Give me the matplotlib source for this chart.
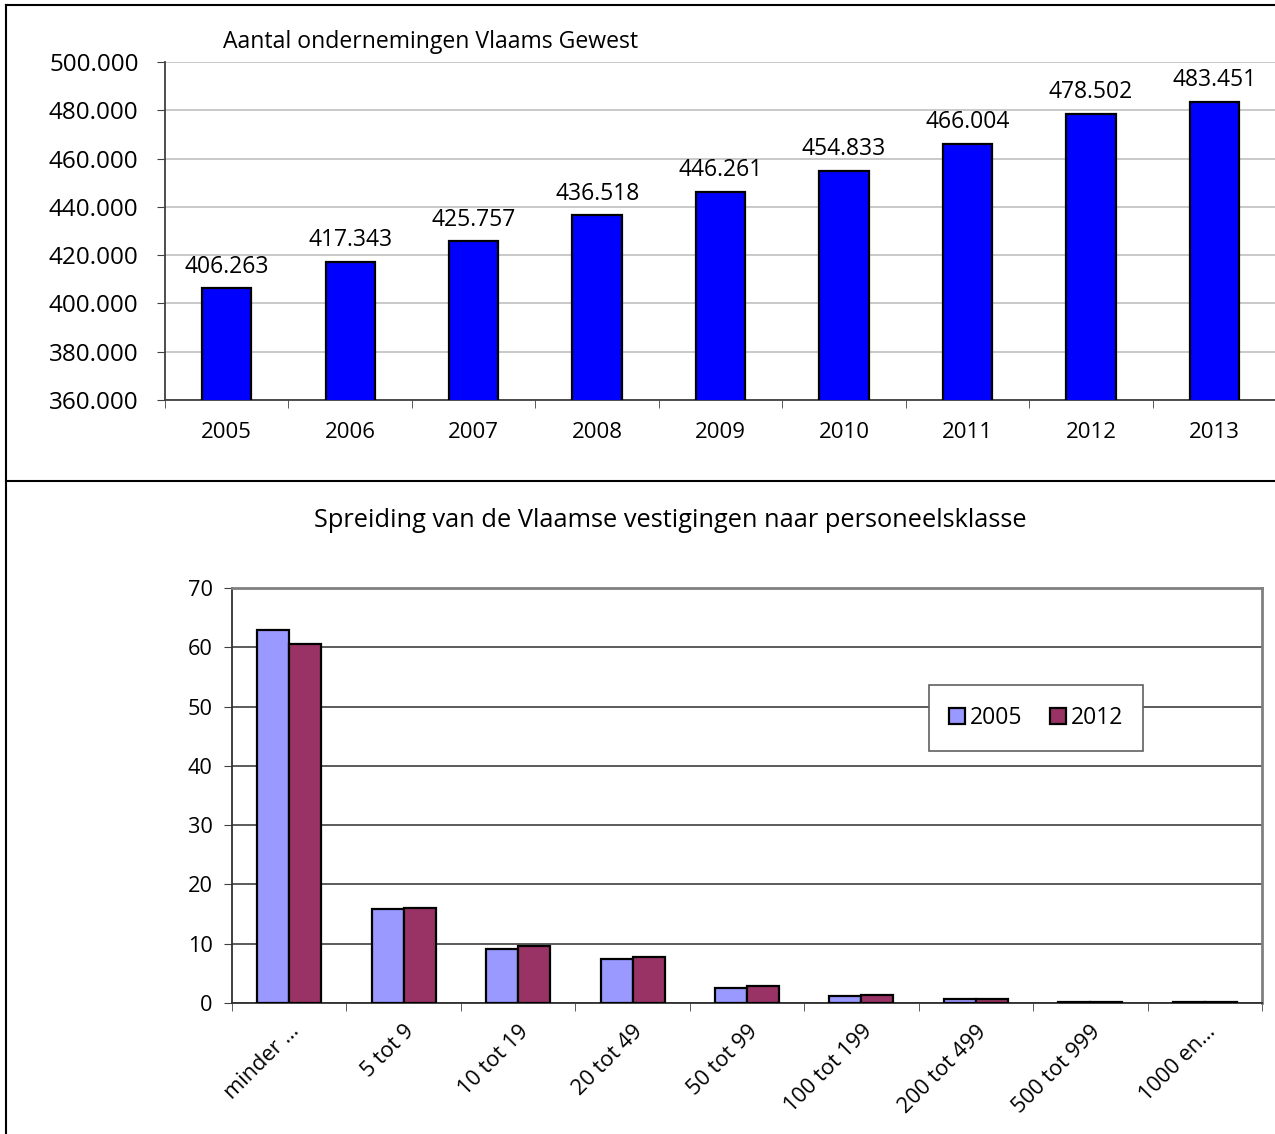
import matplotlib
matplotlib.use('Agg')
import matplotlib.pyplot as plt
from matplotlib.lines import Line2D
import numpy as np

plt.rcParams['font.family'] = ['Open Sans', 'DejaVu Sans']

# top chart: number of enterprises
years = ['2005', '2006', '2007', '2008', '2009', '2010', '2011', '2012', '2013']
enterprises = [406263, 417343, 425757, 436518, 446261, 454833, 466004, 478502, 483451]
enterprise_labels = ['406.263', '417.343', '425.757', '436.518', '446.261',
                     '454.833', '466.004', '478.502', '483.451']
top_yticks = [360000, 380000, 400000, 420000, 440000, 460000, 480000, 500000]
top_yticklabels = ['360.000', '380.000', '400.000', '420.000', '440.000',
                   '460.000', '480.000', '500.000']

# bottom chart: distribution by staff class (%)
classes = ['minder …', '5 tot 9', '10 tot 19', '20 tot 49', '50 tot 99',
           '100 tot 199', '200 tot 499', '500 tot 999', '1000 en…']
share_2005 = [63.0, 15.8, 9.1, 7.5, 2.5, 1.2, 0.6, 0.2, 0.15]
share_2012 = [60.6, 16.1, 9.6, 7.8, 2.9, 1.4, 0.6, 0.2, 0.15]

W, H = 1275, 1134
fig = plt.figure(figsize=(W / 100, H / 100), dpi=100)

# ---- top chart ----
ax1 = fig.add_axes([165 / W, 1 - 400 / H, 1 - 165 / W + 0.001, (400 - 62) / H])
x = np.arange(len(years))
ax1.bar(x, enterprises, width=0.4, color='#0000FF', edgecolor='black', linewidth=1.6, zorder=3)
for xi, v, lab in zip(x, enterprises, enterprise_labels):
    ax1.annotate(lab, (xi, v), xytext=(0, 7), textcoords='offset points',
                 ha='center', va='bottom', fontsize=16.5)
ax1.set_ylim(360000, 500000)
ax1.set_xlim(-0.5, len(years) - 0.5)
ax1.set_yticks(top_yticks)
ax1.set_yticklabels(top_yticklabels, fontsize=17.5)
ax1.set_xticks(x)
ax1.set_xticklabels(years, fontsize=16)
ax1.set_xticks(np.arange(len(years) + 1) - 0.5, minor=True)
ax1.tick_params(axis='x', which='major', length=0, pad=16)
ax1.tick_params(axis='x', which='minor', length=6, color='#404040', direction='out')
ax1.tick_params(axis='y', length=6, color='#404040', pad=13)
ax1.yaxis.grid(True, color='#c0c0c0', linewidth=1.2, zorder=0)
ax1.set_axisbelow(True)
for s in ['top', 'right']:
    ax1.spines[s].set_visible(False)
for s in ['left', 'bottom']:
    ax1.spines[s].set_color('#404040')
    ax1.spines[s].set_linewidth(1.3)
fig.text(431 / W, 1 - 42 / H, 'Aantal ondernemingen Vlaams Gewest',
         ha='center', va='center', fontsize=16.6)

# ---- bottom chart ----
ax2 = fig.add_axes([232 / W, 1 - 1003 / H, (1262 - 232) / W, (1003 - 588) / H])
x2 = np.arange(len(classes))
bw = 0.28
ax2.bar(x2 - bw / 2, share_2005, width=bw, color='#9999FF', edgecolor='black',
        linewidth=1.6, label='2005', zorder=3)
ax2.bar(x2 + bw / 2, share_2012, width=bw, color='#993366', edgecolor='black',
        linewidth=1.6, label='2012', zorder=3)
ax2.set_ylim(0, 70)
ax2.set_xlim(-0.5, len(classes) - 0.5)
ax2.set_yticks(range(0, 71, 10))
ax2.tick_params(axis='y', labelsize=15.7, length=6, color='#404040', pad=8)
ax2.set_xticks(x2)
ax2.set_xticklabels(classes, fontsize=15.7, rotation=45, ha='right', rotation_mode='anchor')
ax2.set_xticks(np.arange(len(classes) + 1) - 0.5, minor=True)
ax2.tick_params(axis='x', which='major', length=0, pad=13)
ax2.tick_params(axis='x', which='minor', length=6, color='#404040', direction='out')
ax2.yaxis.grid(True, color='#404040', linewidth=1.2, zorder=0)
ax2.set_axisbelow(True)
for s in ['left', 'bottom']:
    ax2.spines[s].set_color('#303030')
    ax2.spines[s].set_linewidth(1.3)
for s in ['top', 'right']:
    ax2.spines[s].set_color('#808080')
    ax2.spines[s].set_linewidth(2)
fig.text(670 / W, 1 - 521 / H, 'Spreiding van de Vlaamse vestigingen naar personeelsklasse',
         ha='center', va='center', fontsize=18.3)

leg = ax2.legend(loc='center', bbox_to_anchor=(1036 / W, 1 - 718 / H),
                 bbox_transform=fig.transFigure, ncol=2, fontsize=16.5,
                 handlelength=0.7, handleheight=0.7, handletextpad=0.2,
                 columnspacing=1.2, borderpad=0.9, fancybox=False, framealpha=1)
leg.get_frame().set_edgecolor('#606060')
leg.get_frame().set_linewidth(1.2)
for h in leg.legend_handles:
    h.set_linewidth(1.6)

# figure frame lines
for coords in [([6 / W, 1.0], [1 - 5 / H, 1 - 5 / H]),
               ([6 / W, 6 / W], [0, 1 - 5 / H]),
               ([6 / W, 1.0], [1 - 481 / H, 1 - 481 / H])]:
    fig.add_artist(Line2D(coords[0], coords[1], color='black', linewidth=1.5,
                          transform=fig.transFigure))

fig.savefig('out.png', dpi=100)
